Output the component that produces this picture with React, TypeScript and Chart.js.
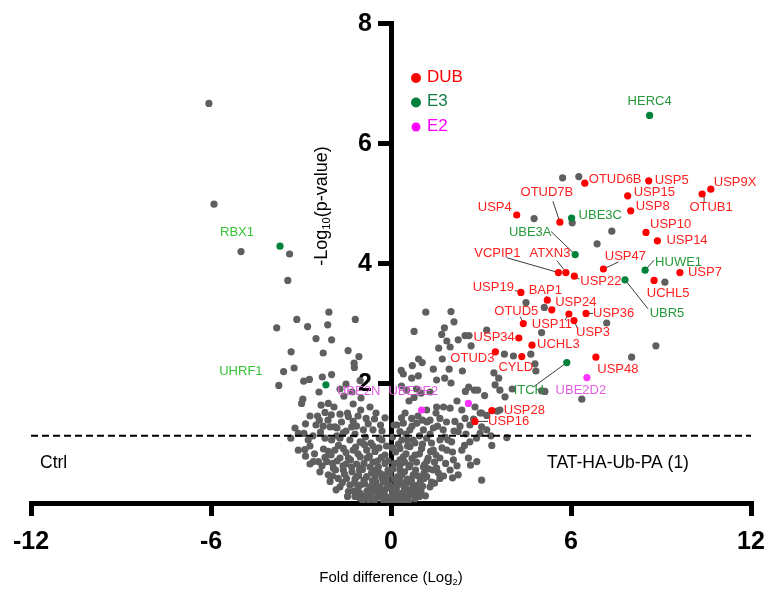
import React, { useEffect, useRef } from 'react';
import { Chart, registerables } from 'chart.js';

Chart.register(...registerables);

// ---------- data ----------
const xTicks = [-12, -6, 0, 6, 12];
const yTicks = [0, 2, 4, 6, 8];
const thresholdY = 1.12;
const conditionLeft = 'Ctrl';
const conditionRight = 'TAT-HA-Ub-PA (1)';
const legendItems = ['DUB', 'E3', 'E2'];

const dubNames = ['USP5', 'USP9X', 'OTUB1', 'USP15', 'USP8', 'OTUD6B', 'USP4', 'OTUD7B', 'USP10', 'USP14', 'VCPIP1', 'ATXN3', 'USP22', 'USP47', 'USP7', 'UCHL5', 'USP19', 'BAP1', 'USP24', 'USP36', 'OTUD5', 'USP11', 'USP3', 'USP34', 'UCHL3', 'OTUD3', 'CYLD', 'USP48', 'USP28', 'USP16'];
const dubX = [8.59, 10.66, 10.37, 7.89, 7.99, 6.46, 4.19, 5.63, 8.5, 8.88, 5.58, 5.83, 6.11, 7.08, 9.63, 8.77, 4.33, 5.21, 5.36, 6.5, 4.41, 5.93, 6.1, 4.26, 4.7, 3.48, 4.36, 6.83, 3.36, 2.8];
const dubY = [5.37, 5.23, 5.15, 5.12, 4.87, 5.33, 4.8, 4.68, 4.51, 4.37, 3.84, 3.84, 3.78, 3.9, 3.84, 3.71, 3.51, 3.38, 3.22, 3.16, 2.99, 3.15, 3.04, 2.75, 2.63, 2.52, 2.44, 2.43, 1.54, 1.36];

const e3Names = ['HERC4', 'UBE3C', 'UBE3A', 'HUWE1', 'UBR5', 'ITCH', 'RBX1', 'UHRF1'];
const e3X = [8.62, 6.02, 6.14, 8.47, 7.8, 5.86, -3.7, -2.17];
const e3Y = [6.46, 4.75, 4.14, 3.88, 3.72, 2.34, 4.28, 1.97];

const e2Names = ['UBE2D2', 'UBE2E2', 'UBE2N'];
const e2X = [6.53, 2.58, 1.02];
const e2Y = [2.09, 1.66, 1.55];

const otherProteins: [number, number][] = [
  [5.72, 5.42], [6.26, 5.44], [4.77, 4.74], [6.04, 4.67], [7.36, 4.53], [6.87, 4.32], [9.13, 3.68], [4.5, 3.34], [5.11, 3.26], [7.19, 3.0], [5.02, 2.84], [8.02, 2.43], [8.83, 2.62], [6.36, 1.73],
  [-6.07, 6.66], [-5.9, 4.98], [-5.0, 4.19], [-3.38, 4.15], [-3.44, 3.71],
  [-2.07, 3.18], [-3.14, 3.06], [-1.19, 3.06], [-3.81, 2.92], [-2.78, 2.94], [-2.11, 2.97], [-2.5, 2.74], [-1.98, 2.72], [-3.33, 2.52], [-2.26, 2.5], [-1.43, 2.54], [-1.07, 2.44], [-1.23, 2.33], [-1.22, 2.26], [-3.58, 2.19], [-3.23, 2.25], [-1.98, 2.14], [-2.29, 2.1], [-2.72, 2.06], [-2.91, 2.03], [-3.74, 1.96], [-1.5, 1.98], [-1.03, 2.04], [-2.94, 1.73], [-1.57, 1.78],
  [1.16, 3.18], [2.0, 3.19], [2.1, 3.02], [0.77, 2.86], [1.78, 2.92], [1.69, 2.81], [3.19, 2.88], [2.47, 2.79], [2.6, 2.79], [2.24, 2.72], [1.86, 2.7], [2.67, 2.62], [1.59, 2.58], [1.97, 2.6], [1.71, 2.4], [0.92, 2.4], [1.04, 2.34], [0.71, 2.29], [1.41, 2.23], [1.94, 2.23], [2.38, 2.2], [0.34, 2.21], [0.41, 2.15], [0.91, 2.12], [0.69, 2.08], [1.52, 2.05], [1.79, 2.08], [3.78, 2.48], [4.08, 2.45], [3.43, 2.17], [3.59, 2.08], [2.59, 1.93], [2.78, 1.88], [2.89, 1.88], [3.47, 1.97], [3.63, 1.88], [2.48, 1.86], [3.12, 1.79], [1.0, 1.83], [0.77, 1.76], [3.8, 1.77], [0.52, 1.88],
  [4.66, 2.48], [4.8, 2.32], [4.83, 2.2], [4.04, 1.9], [5.02, 1.87], [5.13, 1.86], [3.63, 1.55], [3.54, 1.53], [3.19, 1.46], [3.02, 1.5], [3.86, 1.09], [3.33, 1.12], [3.36, 0.96], [3.02, 1.27],
  [-2.98, 1.66], [-2.33, 1.63], [-2.09, 1.66], [-1.9, 1.6], [-1.26, 1.65], [-2.2, 1.51], [-1.99, 1.47], [-1.7, 1.48], [-1.01, 1.55], [-2.39, 1.38], [-1.42, 1.44], [-0.83, 1.41], [-1.26, 1.36], [-2.26, 1.28], [-2.03, 1.27], [-1.87, 1.27], [-1.31, 1.27], [-0.76, 1.32], [-0.92, 1.22], [-1.59, 1.17], [-3.09, 1.16], [-2.9, 1.16], [-3.34, 1.08], [-2.76, 1.05], [-2.2, 1.08], [-1.98, 1.05], [-1.7, 1.08], [-1.37, 1.05], [-1.03, 1.02], [-0.67, 1.0], [-0.39, 1.08], [-3.09, 0.88], [-2.87, 0.89], [-2.7, 0.95], [-2.09, 0.86], [-1.87, 0.88], [-1.59, 0.91], [-1.26, 0.88], [-0.81, 0.88], [-0.53, 0.86], [-2.42, 0.69], [-2.59, 0.69], [-2.14, 0.69], [-1.7, 0.75], [-1.42, 0.75], [-1.03, 0.77], [-0.2, 0.66], [-1.92, 0.58], [-1.59, 0.55], [-1.31, 0.6], [-1.03, 0.58], [-0.7, 0.6], [-0.42, 0.6], [-2.37, 0.52], [-2.09, 0.47], [-1.76, 0.41], [-1.48, 0.41], [-1.14, 0.44], [-0.81, 0.44], [-0.53, 0.44], [-0.26, 0.47], [-2.03, 0.36], [-1.7, 0.27], [-1.37, 0.3], [-1.03, 0.3], [-0.7, 0.27], [-0.37, 0.27], [-1.83, 0.22], [-1.42, 0.19], [-1.03, 0.16], [-0.7, 0.13], [-0.37, 0.13], [-1.03, 0.08], [-0.59, 0.08], [-0.26, 0.05], [-1.45, 0.11], [-1.2, 0.11],
  [0.47, 1.5], [0.69, 1.41], [1.19, 1.55], [1.52, 1.6], [1.97, 1.58], [2.36, 1.55], [2.8, 1.6], [2.97, 1.5], [0.41, 1.33], [0.86, 1.33], [1.3, 1.38], [1.63, 1.41], [2.13, 1.36], [2.47, 1.41], [2.63, 1.3], [0.3, 1.19], [0.63, 1.22], [1.08, 1.22], [1.41, 1.25], [1.74, 1.22], [2.24, 1.19], [2.97, 1.16], [3.19, 1.22], [0.36, 1.05], [0.74, 1.05], [1.19, 1.08], [1.63, 1.05], [2.02, 1.02], [2.63, 1.02], [0.3, 0.91], [0.63, 0.94], [1.02, 0.91], [1.41, 0.88], [1.86, 0.88], [2.36, 0.88], [0.41, 0.77], [0.8, 0.8], [1.24, 0.75], [1.63, 0.75], [2.08, 0.72], [2.58, 0.75], [2.86, 0.69], [0.3, 0.63], [0.63, 0.63], [1.08, 0.6], [1.52, 0.58], [1.97, 0.55], [2.24, 0.47], [0.36, 0.47], [0.74, 0.47], [1.19, 0.44], [1.63, 0.41], [3.02, 0.38], [0.19, 0.33], [0.52, 0.33], [0.91, 0.3], [1.3, 0.27], [0.13, 0.19], [0.47, 0.19], [0.86, 0.16], [0.08, 0.08], [0.36, 0.08],
  [-0.8, 0.2], [-0.6, 0.25], [-0.45, 0.18], [-0.3, 0.1], [-0.15, 0.05], [0.0, 0.02], [0.15, 0.06], [0.25, 0.12], [0.45, 0.25], [0.6, 0.22], [0.75, 0.3], [-0.2, 0.22], [0.05, 0.15], [-0.05, 0.3], [0.2, 0.28], [-0.5, 0.35], [-0.9, 0.38], [-1.2, 0.4], [0.55, 0.4], [0.9, 0.45], [1.1, 0.5], [1.4, 0.55], [-0.3, 0.42], [0.1, 0.4], [-0.1, 0.55], [0.3, 0.55], [0.6, 0.6], [0.85, 0.68], [1.2, 0.7], [1.5, 0.8], [-0.45, 0.7], [-0.8, 0.75], [-1.1, 0.82], [-1.5, 0.65], [-1.8, 0.7], [-2.0, 0.8], [-0.2, 0.8], [0.15, 0.85], [0.5, 0.82], [0.8, 1.0], [1.05, 0.98], [1.35, 1.0], [1.8, 1.1], [2.1, 1.2], [-0.6, 0.95], [-0.95, 1.0], [-1.2, 1.15], [-1.5, 1.2], [-1.8, 1.25], [-2.5, 1.3], [-2.7, 1.45], [-0.3, 1.2], [0.05, 1.1], [0.2, 1.3], [0.5, 1.15], [0.9, 1.45], [1.2, 1.35], [1.5, 1.5], [1.75, 1.6], [2.2, 1.7], [-0.5, 1.5], [-0.7, 1.6], [-1.0, 1.75], [-1.3, 1.85], [-1.7, 1.9], [-2.4, 1.85], [0.6, 1.7], [0.85, 1.9], [1.3, 1.85], [2.0, 2.0], [0.35, 1.95], [-0.35, 1.3], [-0.15, 0.95], [0.3, 0.72], [-0.65, 0.5], [0.4, 0.05], [-0.25, 0.35], [1.0, 0.2], [-1.05, 0.55], [1.35, 0.35],
  [-0.95, 0.05], [-0.85, 0.12], [-0.75, 0.06], [-0.65, 0.18], [-0.55, 0.04], [-0.48, 0.27], [-0.4, 0.1], [-0.33, 0.21], [-0.22, 0.14], [-0.12, 0.26], [-0.08, 0.09], [0.03, 0.24], [0.1, 0.04], [0.18, 0.2], [0.28, 0.02], [0.33, 0.16], [0.42, 0.29], [0.5, 0.1], [0.58, 0.03], [0.66, 0.14], [0.72, 0.24], [0.8, 0.07], [0.88, 0.2], [0.95, 0.11], [-1.1, 0.24], [-1.25, 0.2], [1.05, 0.28], [1.15, 0.12],
  [-1.95, 0.45], [-1.85, 0.55], [-1.62, 0.34], [-1.55, 0.48], [-1.3, 0.52], [-1.22, 0.33], [-1.08, 0.46], [-0.95, 0.56], [-0.88, 0.32], [-0.62, 0.37], [-0.55, 0.55], [-0.38, 0.5], [-0.15, 0.38], [-0.05, 0.48], [0.07, 0.57], [0.22, 0.44], [0.32, 0.36], [0.45, 0.52], [0.68, 0.38], [0.82, 0.55], [0.98, 0.36], [1.1, 0.41], [1.25, 0.57], [1.45, 0.33], [1.58, 0.5], [1.75, 0.45], [2.05, 0.42],
  [-2.85, 0.78], [-2.7, 0.65], [-2.55, 0.82], [-2.3, 0.62], [-2.25, 0.9], [-2.2, 0.76], [-1.95, 0.66], [-1.75, 0.96], [-1.6, 0.62], [-1.5, 0.84], [-1.35, 0.72], [-1.18, 0.93], [-1.15, 0.65], [-0.9, 0.66], [-0.88, 0.97], [-0.72, 0.78], [-0.6, 0.68], [-0.4, 0.92], [-0.32, 0.76], [-0.1, 0.7], [0.05, 0.92], [0.12, 0.66], [0.25, 0.98], [0.45, 0.68], [0.55, 0.95], [0.7, 0.74], [0.95, 0.82], [1.12, 0.64], [1.32, 0.86], [1.45, 0.68], [1.7, 0.92], [1.82, 0.66], [2.05, 0.85], [2.2, 0.62], [2.45, 0.96], [2.65, 0.63],
  [-3.2, 1.25], [-2.85, 1.32], [-2.6, 1.12], [-2.45, 1.45], [-2.35, 1.18], [-2.1, 1.38], [-1.8, 1.12], [-1.65, 1.35], [-1.45, 1.5], [-1.15, 1.28], [-1.1, 1.45], [-0.85, 1.1], [-0.6, 1.22], [-0.55, 1.4], [-0.3, 1.05], [-0.2, 1.42], [0.1, 1.3], [0.35, 1.42], [0.55, 1.05], [0.7, 1.28], [0.95, 1.12], [1.05, 1.38], [1.3, 1.15], [1.55, 1.28], [1.85, 1.35], [1.9, 1.05], [2.3, 1.28], [2.5, 1.15], [2.75, 1.4], [2.85, 1.08],
];

// ---------- layout / style of annotations (pixels, relative to each point) ----------
type Place = { dx: number; dy: number; align: CanvasTextAlign; leader?: [number, number, number, number] };
const labelPlacement: Record<string, Place> = {
  USP5: { dx: 6, dy: 0, align: 'left' },
  USP9X: { dx: 3, dy: -7, align: 'left' },
  OTUB1: { dx: 9, dy: 13, align: 'center', leader: [2, 0, 2, 8] },
  USP15: { dx: 6, dy: -3, align: 'left' },
  USP8: { dx: 5, dy: -4, align: 'left' },
  OTUD6B: { dx: 4, dy: -4, align: 'left' },
  USP4: { dx: -5, dy: -8, align: 'right' },
  OTUD7B: { dx: -13, dy: -30, align: 'center', leader: [0, 0, -7, -21] },
  USP10: { dx: 4, dy: -8, align: 'left' },
  USP14: { dx: 9, dy: 0, align: 'left' },
  VCPIP1: { dx: -61, dy: -19, align: 'center', leader: [0, 0, -52, -15] },
  ATXN3: { dx: -16, dy: -19, align: 'center', leader: [-2, -3, -9, -12] },
  USP22: { dx: 6, dy: 5, align: 'left', leader: [0, 0, 5, 3] },
  USP47: { dx: 22, dy: -13, align: 'center', leader: [0, 0, 15, -7] },
  USP7: { dx: 8, dy: 0, align: 'left' },
  UCHL5: { dx: 14, dy: 13, align: 'center' },
  USP19: { dx: -7, dy: -5, align: 'right', leader: [0, 0, -6, -2] },
  BAP1: { dx: -2, dy: -10, align: 'center', leader: [0, 0, -1, -4] },
  USP24: { dx: 24, dy: -7, align: 'center', leader: [0, 0, 3, -3] },
  USP36: { dx: 7, dy: 0, align: 'left', leader: [0, 0, 7, 0] },
  OTUD5: { dx: -7, dy: -12, align: 'center', leader: [0, 0, -3, -7] },
  USP11: { dx: -17, dy: 10, align: 'center', leader: [0, 0, -4, 6] },
  USP3: { dx: 19, dy: 12, align: 'center', leader: [0, 0, 4, 9] },
  USP34: { dx: -4, dy: -1, align: 'right' },
  UCHL3: { dx: 5, dy: -1, align: 'left' },
  OTUD3: { dx: -23, dy: 7, align: 'center' },
  CYLD: { dx: -6, dy: 11, align: 'center' },
  USP48: { dx: 22, dy: 12, align: 'center' },
  USP28: { dx: 12, dy: 0, align: 'left' },
  USP16: { dx: 13, dy: 0, align: 'left', leader: [0, 0, 13, 0] },
  HERC4: { dx: 0, dy: -14, align: 'center' },
  UBE3C: { dx: 7, dy: -3, align: 'left' },
  UBE3A: { dx: -45, dy: -22, align: 'center', leader: [0, 0, -24, -23] },
  HUWE1: { dx: 10, dy: -8, align: 'left', leader: [0, 0, 9, -10] },
  UBR5: { dx: 42, dy: 34, align: 'center', leader: [0, 0, 23, 29] },
  ITCH: { dx: -38, dy: 28, align: 'center', leader: [0, 0, -33, 24] },
  RBX1: { dx: -43, dy: -14, align: 'center' },
  UHRF1: { dx: -85, dy: -13, align: 'center' },
  UBE2D2: { dx: -6, dy: 13, align: 'center' },
  UBE2E2: { dx: -55, dy: -12, align: 'center' },
  UBE2N: { dx: -63, dy: -19, align: 'center' },
};

const SANS = "'Liberation Sans', Arial, Helvetica, sans-serif";
const COL_DUB = '#ff0000';
const COL_E3 = '#00823a';
const COL_E2 = '#ff33ff';
const COL_OTHER = '#5f5f5f';
const labelColors: Record<string, string> = { DUB: '#ff2020', E3: '#27993a', E3left: '#34c434', E2: '#e15ee1' };
const AREA = { left: 31, right: 751, top: 23, bottom: 503 };

const annotationPlugin = {
  id: 'volcanoAnnotations',
  beforeDatasetsDraw(chart: any) {
    const { ctx, scales } = chart;
    const xs = scales.x, ys = scales.y;
    ctx.save();
    // y tick labels (left of the centred axis)
    ctx.fillStyle = '#000';
    ctx.font = `bold 25px ${SANS}`;
    ctx.textAlign = 'right';
    ctx.textBaseline = 'middle';
    const ax = xs.getPixelForValue(0);
    yTicks.forEach((v) => {
      if (v === 0) return;
      ctx.fillText(String(v), ax - 19, ys.getPixelForValue(v) + 1);
    });

    ctx.strokeStyle = '#3a3a3a';
    ctx.lineWidth = 1;
    const groups: [string[], number[], number[]][] = [[dubNames, dubX, dubY], [e3Names, e3X, e3Y], [e2Names, e2X, e2Y]];
    groups.forEach(([names, gx, gy]) => {
      names.forEach((n, i) => {
        const p = labelPlacement[n];
        if (!p || !p.leader) return;
        const px = xs.getPixelForValue(gx[i]);
        const py = ys.getPixelForValue(gy[i]);
        ctx.beginPath();
        ctx.moveTo(px + p.leader[0], py + p.leader[1]);
        ctx.lineTo(px + p.leader[2], py + p.leader[3]);
        ctx.stroke();
      });
    });
    ctx.restore();
  },
  afterDatasetsDraw(chart: any) {
    const { ctx, scales } = chart;
    const xs = scales.x, ys = scales.y;
    ctx.save();
    // threshold line
    ctx.strokeStyle = '#000';
    ctx.lineWidth = 2;
    ctx.setLineDash([7, 4]);
    const ty = ys.getPixelForValue(thresholdY);
    ctx.beginPath();
    ctx.moveTo(xs.getPixelForValue(-12), ty);
    ctx.lineTo(xs.getPixelForValue(12), ty);
    ctx.stroke();
    ctx.setLineDash([]);

    // point labels
    ctx.font = `13px ${SANS}`;
    ctx.textBaseline = 'middle';
    const draw = (names: string[], gx: number[], gy: number[], kind: string) => {
      names.forEach((n, i) => {
        const p = labelPlacement[n];
        if (!p) return;
        const px = xs.getPixelForValue(gx[i]);
        const py = ys.getPixelForValue(gy[i]);
        ctx.textAlign = p.align;
        ctx.fillStyle = kind === 'E3' && gx[i] < 0 ? labelColors.E3left : labelColors[kind];
        ctx.fillText(n, px + p.dx, py + p.dy);
      });
    };
    draw(dubNames, dubX, dubY, 'DUB');
    draw(e3Names, e3X, e3Y, 'E3');
    draw(e2Names, e2X, e2Y, 'E2');

    // legend
    const legendCols = [COL_DUB, COL_E3, '#ff00ff'];
    const legendText = ['#ff0000', '#13804a', '#ff00ff'];
    const lx = xs.getPixelForValue(0) + 25;
    legendItems.forEach((t, i) => {
      const y = 77 + i * 24.5;
      ctx.fillStyle = legendCols[i];
      ctx.beginPath();
      ctx.arc(lx, y + 1, i === 2 ? 4.5 : 5, 0, Math.PI * 2);
      ctx.fill();
      ctx.fillStyle = legendText[i];
      ctx.font = `17px ${SANS}`;
      ctx.textAlign = 'left';
      ctx.fillText(t, lx + 11, y);
    });

    // condition labels
    ctx.fillStyle = '#000';
    ctx.font = `17.5px ${SANS}`;
    ctx.textAlign = 'left';
    ctx.fillText(conditionLeft, 40, 463);
    ctx.fillText(conditionRight, 547, 463);

    // titles with subscripts
    const drawSubTitle = (parts: [string, boolean][], size: number) => {
      const widths = parts.map(([s, sub]) => {
        ctx.font = `${sub ? size * 0.62 : size}px ${SANS}`;
        return ctx.measureText(s).width;
      });
      const total = widths.reduce((a, b) => a + b, 0);
      let x = -total / 2;
      parts.forEach(([s, sub], k) => {
        ctx.font = `${sub ? size * 0.62 : size}px ${SANS}`;
        ctx.textAlign = 'left';
        ctx.fillText(s, x, sub ? size * 0.3 : 0);
        x += widths[k];
      });
    };
    ctx.fillStyle = '#000';
    ctx.textBaseline = 'middle';
    ctx.save();
    ctx.translate(xs.getPixelForValue(0), 578);
    drawSubTitle([['Fold difference (Log', false], ['2', true], [')', false]], 15);
    ctx.restore();

    ctx.save();
    ctx.translate(322, 206);
    ctx.rotate(-Math.PI / 2);
    drawSubTitle([['-Log', false], ['10', true], ['(p-value)', false]], 18);
    ctx.restore();

    ctx.restore();
  },
};

export default function App() {
  const ref = useRef<HTMLCanvasElement>(null);
  useEffect(() => {
    document.body.style.margin = '0';
    const canvas = ref.current!;
    const R = 3.6;
    const chart = new Chart(canvas, {
      type: 'scatter',
      data: {
        datasets: [
          { label: 'DUB', data: dubX.map((x, i) => ({ x, y: dubY[i] })), backgroundColor: COL_DUB, pointRadius: R, borderWidth: 0, order: 1 },
          { label: 'E3', data: e3X.map((x, i) => ({ x, y: e3Y[i] })), backgroundColor: COL_E3, pointRadius: R, borderWidth: 0, order: 1 },
          { label: 'E2', data: e2X.map((x, i) => ({ x, y: e2Y[i] })), backgroundColor: COL_E2, pointRadius: R, borderWidth: 0, order: 1 },
          { label: 'Other', data: otherProteins.map(([x, y]) => ({ x, y })), backgroundColor: COL_OTHER, pointRadius: R, borderWidth: 0, order: 5 },
        ],
      },
      options: {
        animation: false,
        responsive: false,
        maintainAspectRatio: false,
        events: [],
        layout: { padding: { left: AREA.left, right: 768 - AREA.right, top: AREA.top, bottom: 0 } },
        plugins: { legend: { display: false }, tooltip: { enabled: false } },
        scales: {
          x: {
            type: 'linear',
            min: -12,
            max: 12,
            position: 'bottom',
            afterBuildTicks: (s: any) => { s.ticks = xTicks.map((v) => ({ value: v })); },
            afterFit: (s: any) => { s.height = 592 - AREA.bottom; s.paddingLeft = 0; s.paddingRight = 0; },
            ticks: { color: '#000', font: { family: SANS, size: 25, weight: 'bold' }, padding: 11, maxRotation: 0, autoSkip: false },
            grid: { display: true, drawOnChartArea: false, drawTicks: true, tickLength: 13, lineWidth: 5, color: '#000' },
            border: { display: true, width: 5, color: '#000' },
          },
          y: {
            axis: 'y',
            type: 'linear',
            min: 0,
            max: 8,
            position: { x: 0 } as any,
            afterBuildTicks: (s: any) => { s.ticks = yTicks.map((v) => ({ value: v })); },
            afterFit: (s: any) => { s.width = 0; s.paddingTop = 0; s.paddingBottom = 0; s.paddingLeft = 0; s.paddingRight = 0; },
            ticks: { display: false },
            grid: { display: true, drawOnChartArea: false, drawTicks: true, tickLength: 11, lineWidth: 5, color: '#000' },
            border: { display: true, width: 5, color: '#000' },
          },
        },
      } as any,
      plugins: [annotationPlugin],
    });
    return () => chart.destroy();
  }, []);
  return (
    <div style={{ width: 768, height: 592, position: 'relative', background: '#fff' }}>
      <canvas ref={ref} width={768} height={592} style={{ display: 'block' }} />
    </div>
  );
}
